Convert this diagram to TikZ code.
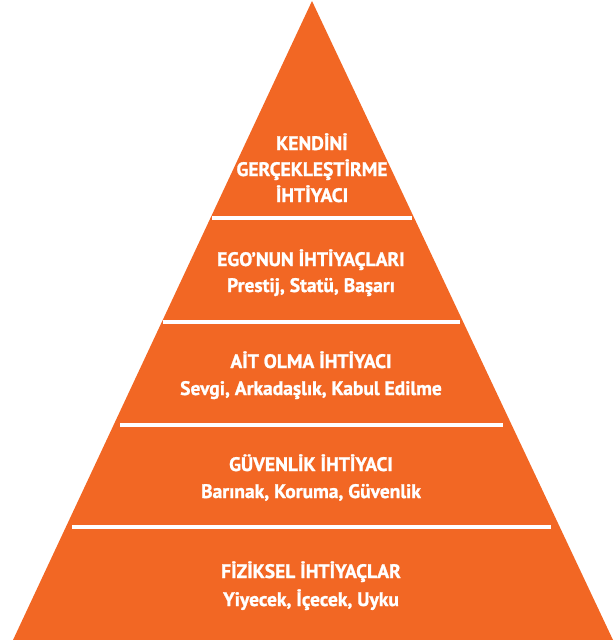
\documentclass[tikz,border=0pt]{standalone}
\usepackage{fontspec}
\setmainfont{PT Sans}[BoldFont={PT Sans Bold},BoldFeatures={FakeBold=1.2}]
\usepackage{tikz}
\definecolor{piramit}{RGB}{242,103,36}
\newcommand{\bs}{\fontsize{19.5}{22}\selectfont\bfseries}

\begin{document}
\begin{tikzpicture}[x=1pt,y=-1pt,
       txt/.style={anchor=base,inner sep=0pt,text=white,font=\bs},
       ayrac/.style={white,line width=3.6pt}]
       \useasboundingbox (0,0) rectangle (615,640);
       \fill[piramit] (312,1) -- (13,640) -- (613,640) -- cycle;
       \draw[ayrac] (212,218) -- (412,218);
       \draw[ayrac] (163,322) -- (460,322);
       \draw[ayrac] (120,425) -- (503,425);
       \draw[ayrac] ( 72,527) -- (551,527);
       \node[txt] (kendi1) at (312,150) {KENDİNİ};
       \node[txt] (kendi2) at (312,176) {GERÇEKLEŞTİRME};
       \node[txt] (kendi3) at (312,202) {İHTİYACI};
       \node[txt] (ego1)   at (311,266) {EGO’NUN İHTİYAÇLARI};
       \node[txt] (ego2)   at (311,292) {Prestij, Statü, Başarı};
       \node[txt] (ait1)   at (311,368) {AİT OLMA İHTİYACI};
       \node[txt] (ait2)   at (311,395) {Sevgi, Arkadaşlık, Kabul Edilme};
       \node[txt] (guv1)   at (311,471) {GÜVENLİK İHTİYACI};
       \node[txt] (guv2)   at (311,498) {Barınak, Koruma, Güvenlik};
       \node[txt] (fiz1)   at (311,578) {FİZİKSEL İHTİYAÇLAR};
       \node[txt] (fiz2)   at (311,606) {Yiyecek, İçecek, Uyku};
\end{tikzpicture}
\end{document}
